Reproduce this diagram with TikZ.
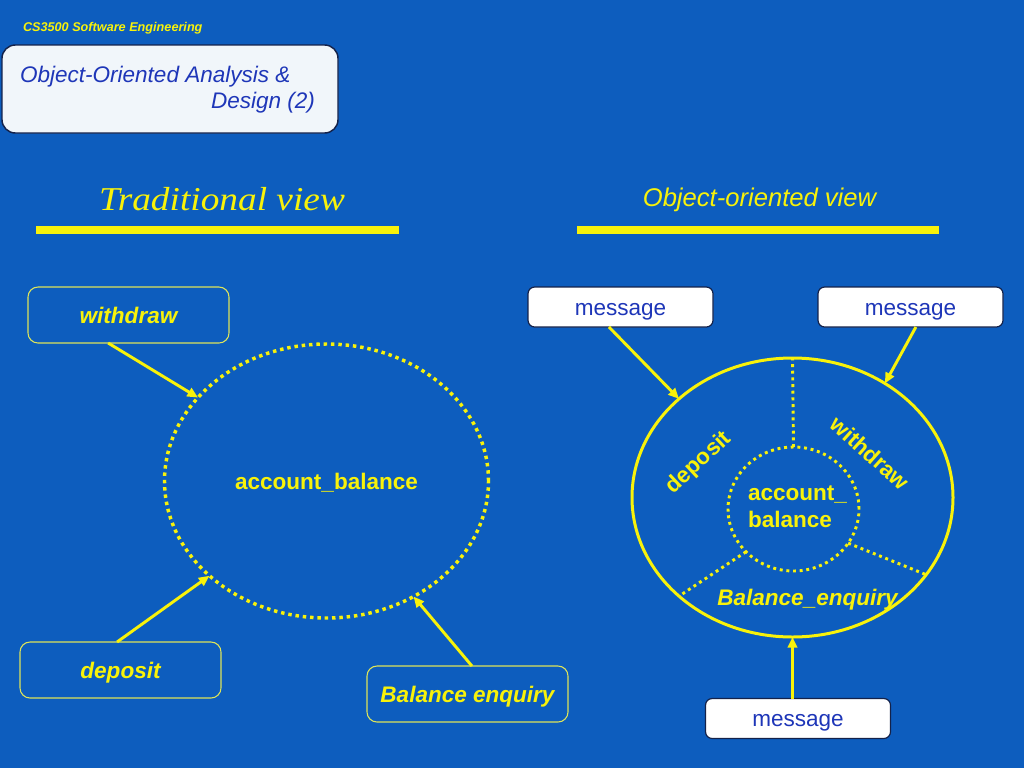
\documentclass[tikz,border=0pt]{standalone}
\usepackage{graphicx}
\usepackage{fontspec}
\setmainfont{Liberation Sans}
\newfontfamily\serifit{Liberation Serif}
\usetikzlibrary{arrows.meta,shapes.geometric}
\definecolor{bg}{HTML}{0D5DBE}
\definecolor{yel}{HTML}{F8F20A}
\definecolor{ttl}{HTML}{1E36B8}
\definecolor{navy}{HTML}{14224A}
\definecolor{pale}{HTML}{F1F6FA}
\definecolor{boxedge}{HTML}{DDE45A}
\newcommand\bodysize{\fontsize{16.9}{20}\selectfont}
\begin{document}
\begin{tikzpicture}[x=0.75pt,y=-0.75pt,
  every node/.style={inner sep=0pt,outer sep=0pt},
  txt/.style={text height=14pt,text depth=2pt},
  yelbox/.style={draw=boxedge,line width=0.8pt,rounded corners=7.5pt,
    minimum width=150.75pt,minimum height=42pt,
    font=\bodysize\bfseries\itshape,text=yel,txt},
  msgbox/.style={fill=white,draw=navy,line width=0.9pt,rounded corners=5pt,
    minimum width=138.75pt,minimum height=30pt,font=\bodysize,text=ttl,txt},
  arr/.style={draw=yel,line width=2.2pt,-{Triangle[length=8pt,width=7pt]}},
  bigdots/.style={draw=yel,line width=2.6pt,dash pattern=on 2.6pt off 2.9pt},
  smalldots/.style={draw=yel,line width=2.2pt,dash pattern=on 2.2pt off 2.8pt},
  lbl/.style={font=\bodysize\bfseries,text=yel,txt},
  rlbl/.style={font=\bodysize\bfseries,text=yel}
]
\fill[bg] (0,0) rectangle (1024,768);
\useasboundingbox (0,0) rectangle (1024,768);

% header
\node[anchor=base west,font=\fontsize{9.5}{11}\selectfont\bfseries\itshape,text=yel] (course) at (23,31) {CS3500 Software Engineering};
\node[fill=pale,draw=navy,line width=1.1pt,rounded corners=10pt,minimum width=252pt,minimum height=66pt] (titlebox) at (170,89) {};
\node[anchor=base west,font=\bodysize\itshape,text=ttl] (title1) at (20,82) {Object-Oriented Analysis \&};
\node[anchor=base east,font=\bodysize\itshape,text=ttl] (title2) at (315,108) {Design (2)};

% section titles and bars
\node[anchor=base,font=\serifit\itshape\fontsize{25}{30}\selectfont,text=yel] (tradttl) at (222,210) {\scalebox{1.12}[1]{Traditional view}};
\node[anchor=base,font=\fontsize{19.2}{23}\selectfont\itshape,text=yel] (oottl) at (759.5,206) {Object-oriented view};
\fill[yel] (36,226) rectangle (399,234);
\fill[yel] (577,226) rectangle (939,234);

% traditional view
\node[ellipse,bigdots,minimum width=243pt,minimum height=205.5pt,lbl] (trad) at (326.5,481) {account\_balance};
\node[yelbox] (wd) at (128.5,315) {withdraw};
\node[yelbox] (dep) at (120.5,670) {deposit};
\node[yelbox] (be) at (467.5,694) {Balance enquiry};
\draw[arr] (wd.234) -- (trad.147.7);
\draw[arr] (dep.97) -- (trad.219);
\draw[arr] (be.81) -- (trad.307);

% object-oriented view
\node[ellipse,draw=yel,line width=2.25pt,minimum width=240.75pt,minimum height=209.25pt] (outer) at (792.5,497.5) {};
\node[ellipse,smalldots,minimum width=98.25pt,minimum height=93pt] (inner) at (793.5,509) {};
\draw[smalldots] (inner.90) -- (outer.90);
\draw[smalldots] (inner.222) -- (outer.221);
\draw[smalldots] (inner.328) -- (outer.330);
\node[lbl,anchor=base west] (acctA) at (748,500) {account\_};
\node[lbl,anchor=base west] (acctB) at (748,527) {balance};
\node[rlbl,rotate=43] (lbldep) at (699,463) {deposit};
\node[rlbl,rotate=-42] (lblwd) at (870,453) {withdraw};
\node[lbl,font=\bodysize\bfseries\itshape] (lblbe) at (807.5,597) {Balance\_enquiry};

\node[msgbox] (m1) at (620.5,307) {message};
\node[msgbox] (m2) at (910.5,307) {message};
\node[msgbox] (m3) at (798,718.5) {message};
\draw[arr] (m1.240) -- (outer.139);
\draw[arr] (m2.285) -- (outer.51.4);
\draw[arr] (outer.south |- m3.north) -- (outer.south);
\end{tikzpicture}
\end{document}
